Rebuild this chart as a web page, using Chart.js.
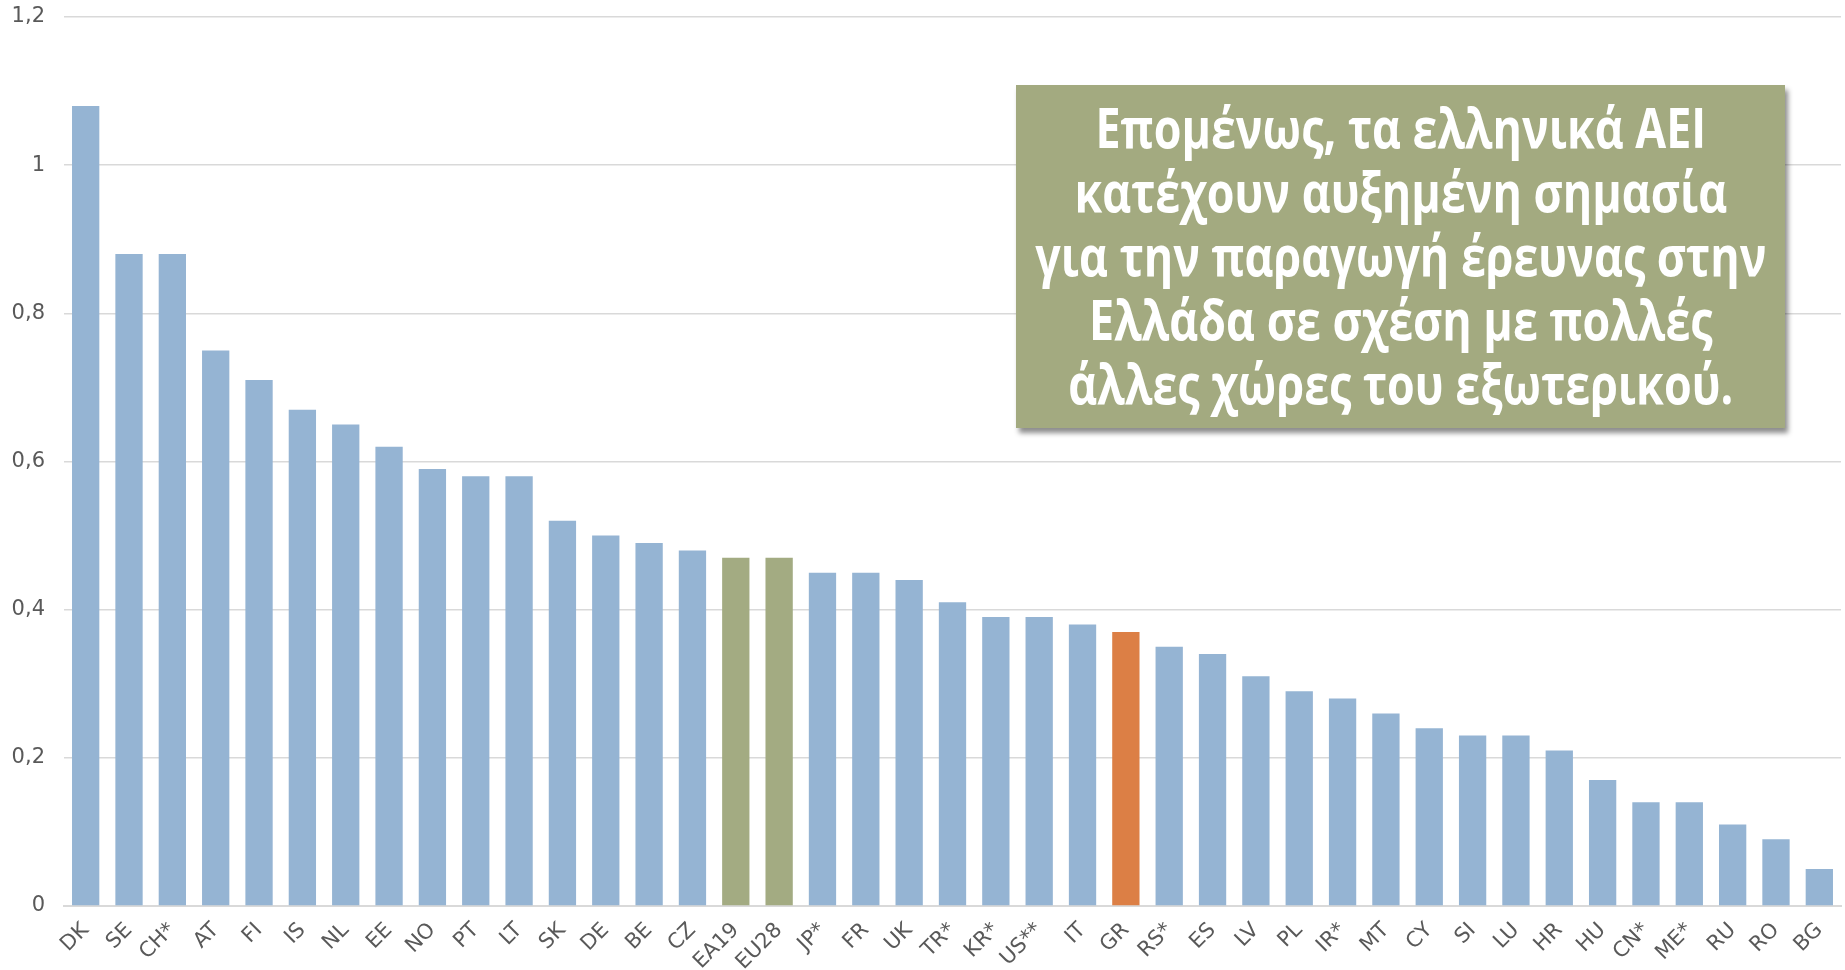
<!DOCTYPE html>
<html>
<head>
<meta charset="utf-8">
<script src="https://cdn.jsdelivr.net/npm/chart.js@4.4.1/dist/chart.umd.min.js"></script>
<style>
  html, body { margin: 0; padding: 0; background: #fff; }
  #wrap { position: relative; width: 1845px; height: 970px; }
  #note {
    position: absolute;
    left: 1016px; top: 85px; width: 769px; height: 343px;
    background: #a3aa80;
    box-shadow: 3px 5px 5px rgba(0, 0, 0, 0.45);
    display: flex; align-items: center; justify-content: center;
    overflow: hidden;
  }
  #note div {
    color: #fff;
    font-family: "Open Sans", "Noto Sans", sans-serif;
    font-weight: 700;
    font-size: 56px;
    line-height: 64px;
    text-align: center;
    white-space: nowrap;
    transform: scaleX(0.8);
    margin-top: -5px;
  }
</style>
</head>
<body>
<div id="wrap">
  <canvas id="chart" width="1845" height="970"></canvas>
  <div id="note"><div>Επομένως, τα ελληνικά ΑΕΙ<br>κατέχουν αυξημένη σημασία<br>για την παραγωγή έρευνας στην<br>Ελλάδα σε σχέση με πολλές<br>άλλες χώρες του εξωτερικού.</div></div>
</div>
<script>
const countries = ['DK', 'SE', 'CH*', 'AT', 'FI', 'IS', 'NL', 'EE', 'NO', 'PT', 'LT', 'SK', 'DE', 'BE', 'CZ',
  'EA19', 'EU28', 'JP*', 'FR', 'UK', 'TR*', 'KR*', 'US**', 'IT', 'GR', 'RS*', 'ES', 'LV', 'PL', 'IR*',
  'MT', 'CY', 'SI', 'LU', 'HR', 'HU', 'CN*', 'ME*', 'RU', 'RO', 'BG'];
const values = [1.08, 0.88, 0.88, 0.75, 0.71, 0.67, 0.65, 0.62, 0.59, 0.58, 0.58, 0.52, 0.50, 0.49, 0.48,
  0.47, 0.47, 0.45, 0.45, 0.44, 0.41, 0.39, 0.39, 0.38, 0.37, 0.35, 0.34, 0.31, 0.29, 0.28,
  0.26, 0.24, 0.23, 0.23, 0.21, 0.17, 0.14, 0.14, 0.11, 0.09, 0.05];
const yTickLabels = ['0', '0,2', '0,4', '0,6', '0,8', '1', '1,2'];
const averages = ['EA19', 'EU28'];
const greece = 'GR';

const barColors = countries.map(c => {
  if (averages.includes(c)) return '#a3ab82';
  if (c === greece) return '#dc7f45';
  return '#95b4d3';
});

const ctx = document.getElementById('chart').getContext('2d');
const chart = new Chart(ctx, {
  type: 'bar',
  data: {
    labels: countries,
    datasets: [{
      data: values,
      backgroundColor: barColors,
      borderWidth: 0,
      barPercentage: 0.63,
      categoryPercentage: 1,
    }],
  },
  options: {
    responsive: false,
    animation: false,
    layout: { padding: { top: 0, right: 0, left: 0, bottom: 0 } },
    plugins: {
      legend: { display: false },
      tooltip: { enabled: false },
    },
    scales: {
      x: {
        grid: { display: false, drawTicks: false },
        border: { display: true, color: '#d9d9d9', width: 2 },
        ticks: {
          color: '#595959',
          font: { family: '"DejaVu Sans", sans-serif', size: 21 },
          minRotation: 45,
          maxRotation: 45,
          autoSkip: false,
          padding: 12,
        },
        afterFit: scale => {
          scale.height = 64;
          scale.paddingRight = 4;
        },
      },
      y: {
        min: 0,
        max: 1.2,
        grid: { color: '#d9d9d9', lineWidth: 1.5, drawTicks: false },
        border: { display: false },
        ticks: {
          stepSize: 0.2,
          color: '#595959',
          font: { family: '"DejaVu Sans", sans-serif', size: 21 },
          padding: 19,
          callback: (v, i) => yTickLabels[i],
        },
        afterFit: scale => {
          scale.width = 64;
          scale.paddingTop = 17;
          scale.paddingBottom = 0;
        },
      },
    },
  },
});
</script>
</body>
</html>
